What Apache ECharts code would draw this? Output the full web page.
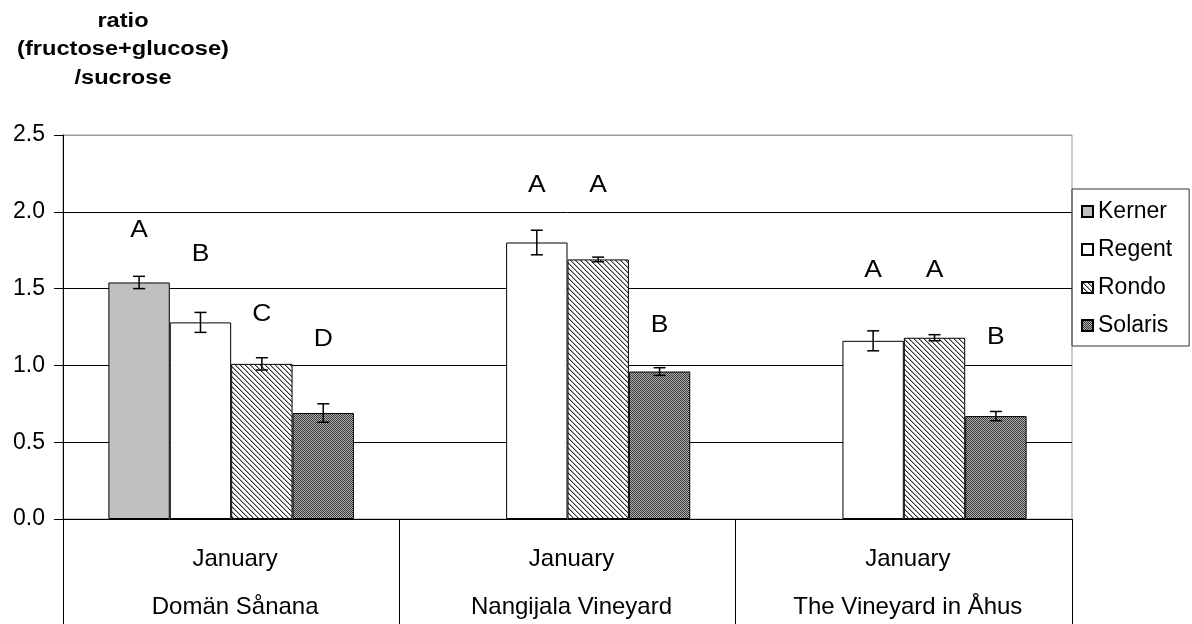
<!DOCTYPE html>
<html>
<head>
<meta charset="utf-8">
<script src="https://cdn.jsdelivr.net/npm/echarts@6/dist/echarts.min.js"></script>
<style>
html, body { margin: 0; padding: 0; background: #fff; }
#main { width: 1192px; height: 624px; }
</style>
</head>
<body>
<div id="main"></div>
<script>
// vineyards and month on the category axis
const sites = ["Domän Sånana", "Nangijala Vineyard", "The Vineyard in Åhus"];
const months = ["January", "January", "January"];
const varieties = ["Kerner", "Regent", "Rondo", "Solaris"];

// mean ratio per variety, one value per site
const kerner = [1.54, null, null];
const regent = [1.28, 1.80, 1.16];
const rondo = [1.01, 1.69, 1.18];
const solaris = [0.69, 0.96, 0.67];

// error (+/-) per variety
const kernerErr = [0.04, null, null];
const regentErr = [0.065, 0.08, 0.065];
const rondoErr = [0.04, 0.015, 0.02];
const solarisErr = [0.06, 0.025, 0.03];

// significance letters and where they sit (value units)
const kernerLetter = ["A", "", ""];
const regentLetter = ["B", "A", "A"];
const rondoLetter = ["C", "A", "A"];
const solarisLetter = ["D", "B", "B"];
const kernerLetterY = [1.88, null, null];
const regentLetterY = [1.72, 2.17, 1.62];
const rondoLetterY = [1.33, 2.17, 1.62];
const solarisLetterY = [1.17, 1.26, 1.18];

const yTicks = [0, 0.5, 1.0, 1.5, 2.0, 2.5];
const titleLines = ["ratio", "(fructose+glucose)", "/sucrose"];

const FONT = "Liberation Sans, Arial, sans-serif";
const CAT_GAP = 0.27;

function stripePattern() {
    const n = 5;
    const c = document.createElement("canvas");
    c.width = n; c.height = n;
    const ctx = c.getContext("2d");
    ctx.fillStyle = "#fff";
    ctx.fillRect(0, 0, n, n);
    for (let x = 0; x < n; x++) {
        for (let y = 0; y < n; y++) {
            const d = (x - y + 10 * n) % n;
            if (d === 0) { ctx.fillStyle = "#333"; ctx.fillRect(x, y, 1, 1); }
            else if (d === 1) { ctx.fillStyle = "#a8a8a8"; ctx.fillRect(x, y, 1, 1); }
        }
    }
    return { image: c, repeat: "repeat" };
}

function checkerPattern() {
    const c = document.createElement("canvas");
    c.width = 2; c.height = 2;
    const ctx = c.getContext("2d");
    ctx.fillStyle = "#b0b0b0";
    ctx.fillRect(0, 0, 2, 2);
    ctx.fillStyle = "#3a3a3a";
    ctx.fillRect(0, 0, 1, 1);
    ctx.fillRect(1, 1, 1, 1);
    return { image: c, repeat: "repeat" };
}

const means = [kerner, regent, rondo, solaris];
const errs = [kernerErr, regentErr, rondoErr, solarisErr];
const letters = [kernerLetter, regentLetter, rondoLetter, solarisLetter];
const letterYs = [kernerLetterY, regentLetterY, rondoLetterY, solarisLetterY];
const fills = ["#c0c0c0", "#fff", stripePattern(), checkerPattern()];

// rows for the error bar / letter overlay
let marks = [];
for (let s = 0; s < varieties.length; s++) {
    for (let c = 0; c < sites.length; c++) {
        if (means[s][c] == null) continue;
        marks.push({ value: [c, s, means[s][c], errs[s][c], letterYs[s][c]], letter: letters[s][c] });
    }
}

let series = varieties.map((name, i) => ({
    name: name,
    type: "bar",
    data: means[i],
    barGap: "0%",
    barCategoryGap: CAT_GAP * 100 + "%",
    itemStyle: { color: fills[i], borderColor: "#000", borderWidth: 1 }
}));

series.push({
    type: "custom",
    z: 10,
    silent: true,
    encode: { x: 0, y: 2 },
    data: marks.map(m => m.value),
    renderItem: function(params, api) {
        const cat = api.value(0);
        const s = api.value(1);
        const mean = api.value(2);
        const err = api.value(3);
        const ly = api.value(4);
        const band = api.size([1, 0])[0];
        const barW = band * (1 - CAT_GAP) / 4;
        const x = api.coord([cat, 0])[0] + (s - 1.5) * barW;
        const yt = api.coord([cat, mean + err])[1];
        const yb = api.coord([cat, mean - err])[1];
        const cap = 6;
        const st = { stroke: "#000", lineWidth: 1.5 };
        return {
            type: "group",
            children: [
                { type: "line", shape: { x1: x, y1: yt, x2: x, y2: yb }, style: st },
                { type: "line", shape: { x1: x - cap, y1: yt, x2: x + cap, y2: yt }, style: st },
                { type: "line", shape: { x1: x - cap, y1: yb, x2: x + cap, y2: yb }, style: st },
                {
                    type: "text",
                    x: x,
                    y: api.coord([cat, ly])[1],
                    scaleX: 1.15,
                    style: {
                        x: 0,
                        y: 0,
                        text: marks[params.dataIndex].letter,
                        font: "23px " + FONT,
                        fill: "#000",
                        align: "center",
                        verticalAlign: "middle"
                    }
                }
            ]
        };
    }
});

let chart = echarts.init(document.getElementById("main"));
chart.setOption({
    animation: false,
    backgroundColor: "#fff",
    graphic: titleLines.map((t, i) => ({
        type: "text",
        x: 123,
        y: 21 + i * 28.5,
        scaleX: 1.18,
        style: {
            text: t,
            font: "bold 20px " + FONT,
            fill: "#000",
            align: "center",
            verticalAlign: "middle"
        }
    })),
    legend: {
        orient: "vertical",
        left: 1072,
        top: 189,
        padding: [11, 17, 9, 9],
        itemGap: 15,
        itemWidth: 11,
        itemHeight: 11,
        icon: "rect",
        borderColor: "#333",
        borderWidth: 1,
        data: varieties,
        textStyle: { fontFamily: FONT, fontSize: 23, lineHeight: 23, color: "#000" }
    },
    grid: {
        left: 63,
        right: 120,
        top: 135,
        bottom: 105,
        show: true,
        borderColor: "#999",
        borderWidth: 1,
        backgroundColor: "transparent",
        containLabel: false,
        outerBoundsMode: "none"
    },
    xAxis: {
        type: "category",
        data: sites,
        axisLine: { lineStyle: { color: "#000", width: 1 } },
        axisTick: {
            show: true,
            interval: 0,
            alignWithLabel: false,
            length: 106,
            lineStyle: { color: "#000", width: 1 }
        },
        axisLabel: {
            interval: 0,
            margin: 16,
            padding: [0, 0, 0, 8],
            fontFamily: FONT,
            fontSize: 24,
            lineHeight: 48,
            color: "#000",
            formatter: function(v, i) { return months[i] + "\n" + v; }
        }
    },
    yAxis: {
        type: "value",
        min: yTicks[0],
        max: yTicks[yTicks.length - 1],
        interval: 0.5,
        axisLine: { show: true, lineStyle: { color: "#000", width: 1 } },
        axisTick: { show: true, length: 9, lineStyle: { color: "#000" } },
        axisLabel: {
            margin: 18,
            fontFamily: FONT,
            fontSize: 23,
            color: "#000",
            formatter: v => v.toFixed(1)
        },
        splitLine: {
            show: true,
            lineStyle: { color: ["#000", "#000", "#000", "#000", "#000", "#999"], width: 1 }
        }
    },
    series: series
});

window.addEventListener("resize", function() {
    chart.resize();
});
</script>
</body>
</html>
